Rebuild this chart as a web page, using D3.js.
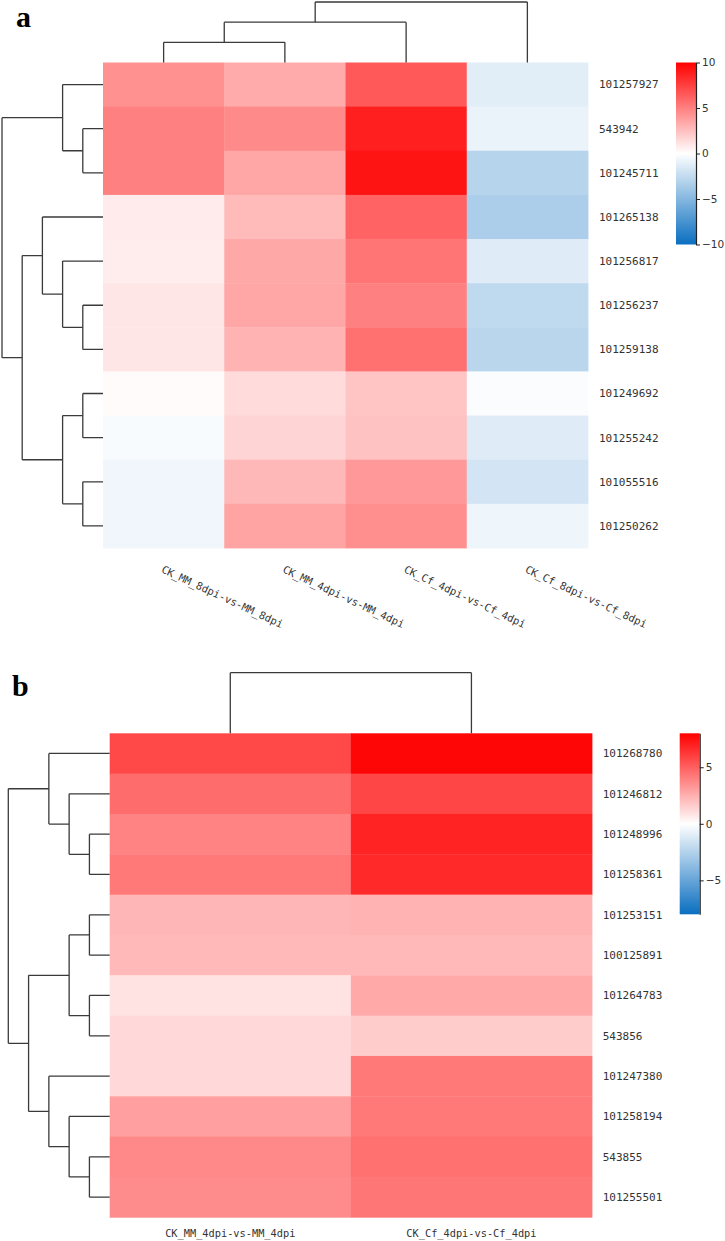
<!DOCTYPE html>
<html><head><meta charset="utf-8">
<script src="https://cdn.jsdelivr.net/npm/d3@7"></script>
<style>
html,body{margin:0;padding:0;background:#fff;}
svg{display:block;}
</style></head>
<body>
<svg id="chart" width="725" height="1241"></svg>
<script>
// ---------- Panel a data ----------
const rowsA = ["101257927","543942","101245711","101265138","101256817","101256237","101259138","101249692","101255242","101055516","101250262"];
const colsA = ["CK_MM_8dpi-vs-MM_8dpi","CK_MM_4dpi-vs-MM_4dpi","CK_Cf_4dpi-vs-Cf_4dpi","CK_Cf_8dpi-vs-Cf_8dpi"];
const valuesA = [
  [4.3, 3.3, 6.5, -1.2],
  [5.0, 4.6, 8.8, -0.8],
  [5.0, 3.5, 9.2, -3.0],
  [0.8, 2.7, 6.1, -3.4],
  [0.7, 3.4, 5.4, -1.3],
  [1.0, 3.5, 5.0, -2.6],
  [1.0, 3.0, 5.6, -2.8],
  [0.15, 1.4, 2.3, -0.2],
  [-0.3, 1.7, 2.4, -1.3],
  [-0.6, 2.8, 4.0, -1.8],
  [-0.6, 3.6, 4.4, -0.7]
];
// dendrograms: node = [height, child, child], leaf = index
const rowTreeA = [5, [2, 0, [1, 1, 2]], [4, [3, 3, [2, 4, [1, 5, 6]]], [2, [1, 7, 8], [1, 9, 10]]]];
const colTreeA = [3, [2, [1, 0, 1], 2], 3];
const limitA = 10;
const ticksA = [-10, -5, 0, 5, 10];

// ---------- Panel b data ----------
const rowsB = ["101268780","101246812","101248996","101258361","101253151","100125891","101264783","543856","101247380","101258194","543855","101255501"];
const colsB = ["CK_MM_4dpi-vs-MM_4dpi","CK_Cf_4dpi-vs-Cf_4dpi"];
const valuesB = [
  [5.7, 7.8],
  [4.6, 5.8],
  [3.9, 6.9],
  [4.2, 6.7],
  [2.3, 2.4],
  [2.2, 2.2],
  [0.9, 2.7],
  [1.2, 1.6],
  [1.2, 4.2],
  [3.0, 4.2],
  [3.7, 4.5],
  [3.6, 4.3]
];
const rowTreeB = [5, [3, 0, [2, 1, [1, 2, 3]]], [4, [2, [1, 4, 5], [1, 6, 7]], [3, 8, [2, 9, [1, 10, 11]]]]];
const colTreeB = [1, 0, 1];
const limitB = 8;
const ticksB = [-5, 0, 5];

// ---------- drawing ----------
const svg = d3.select("#chart");
const BLUE = "#0a6ec0", RED = "#ff0000";
const LINE = "#3a3a3a";
const MONO = "'DejaVu Sans Mono', monospace";

function toHier(t) {
  return d3.hierarchy(t, d => Array.isArray(d) ? d.slice(1) : null);
}

function drawDendro(g, tree, leafPos, hScale, orient) {
  const root = toHier(tree);
  root.eachAfter(n => {
    if (!n.children) { n.p = leafPos(n.data); n.h = 0; }
    else { n.p = (n.children[0].p + n.children[n.children.length - 1].p) / 2; n.h = n.data[0]; }
  });
  root.each(n => {
    if (!n.children) return;
    const hp = hScale(n.h);
    const ps = n.children.map(c => c.p);
    let d = "";
    n.children.forEach(c => {
      const hc = hScale(c.h);
      if (orient === "left") d += `M${hc},${c.p}H${hp}`;
      else d += `M${c.p},${hc}V${hp}`;
    });
    if (orient === "left") d += `M${hp},${d3.min(ps)}V${d3.max(ps)}`;
    else d += `M${d3.min(ps)},${hp}H${d3.max(ps)}`;
    g.append("path").attr("d", d).attr("fill", "none").attr("stroke", LINE).attr("stroke-width", 1.3);
  });
}

function panel(cfg) {
  const g = svg.append("g");
  const x = d3.scaleBand().domain(d3.range(cfg.cols.length)).range([cfg.x0, cfg.x1]);
  const y = d3.scaleBand().domain(d3.range(cfg.rows.length)).range([cfg.y0, cfg.y1]);
  const color = d3.scaleLinear().domain([-cfg.limit, 0, cfg.limit]).range([BLUE, "#ffffff", RED]).clamp(true);

  // cells
  const cells = [];
  cfg.values.forEach((r, i) => r.forEach((v, j) => cells.push({i, j, v})));
  g.append("g").selectAll("rect").data(cells).join("rect")
    .attr("x", d => x(d.j)).attr("y", d => y(d.i))
    .attr("width", x.bandwidth() + 0.4).attr("height", y.bandwidth() + 0.4)
    .attr("fill", d => color(d.v));

  // row labels
  g.append("g").selectAll("text").data(cfg.rows).join("text")
    .attr("x", cfg.x1 + cfg.labelGap)
    .attr("y", (d, i) => y(i) + y.bandwidth() / 2)
    .attr("dy", "0.35em")
    .attr("font-family", MONO).attr("font-size", 11).attr("fill", "#333")
    .text(d => d);

  // column labels
  const cl = g.append("g").selectAll("text").data(cfg.cols).join("text")
    .attr("font-family", MONO).attr("font-size", cfg.colFont).attr("fill", "#333")
    .text(d => d);
  if (cfg.rotate) {
    cl.attr("transform", (d, j) => `translate(${x(j) + x.bandwidth() / 2 - 3},${cfg.y1 + 24}) rotate(${cfg.rotate})`);
  } else {
    cl.attr("text-anchor", "middle")
      .attr("x", (d, j) => x(j) + x.bandwidth() / 2)
      .attr("y", cfg.y1 + 20);
  }

  // row dendrogram
  const rowMax = cfg.rowTree[0];
  const hx = d3.scaleLinear().domain([0, rowMax]).range([cfg.x0, cfg.rowDendroLeft]);
  drawDendro(g, cfg.rowTree, i => y(i) + y.bandwidth() / 2, hx, "left");
  // column dendrogram
  const colMax = cfg.colTree[0];
  const hy = d3.scaleLinear().domain([0, colMax]).range([cfg.y0, cfg.colDendroTop]);
  drawDendro(g, cfg.colTree, j => x(j) + x.bandwidth() / 2, hy, "top");

  // colour bar
  const gid = "grad" + cfg.id;
  const grad = svg.append("defs").append("linearGradient").attr("id", gid)
    .attr("x1", 0).attr("y1", 1).attr("x2", 0).attr("y2", 0);
  d3.range(0, 1.0001, 0.05).forEach(t => {
    grad.append("stop").attr("offset", t).attr("stop-color", color(-cfg.limit + 2 * cfg.limit * t));
  });
  g.append("rect").attr("x", cfg.cbX).attr("y", cfg.y0).attr("width", cfg.cbW).attr("height", cfg.cbH)
    .attr("fill", `url(#${gid})`);
  const cy = d3.scaleLinear().domain([-cfg.limit, cfg.limit]).range([cfg.y0 + cfg.cbH, cfg.y0]);
  const ax = g.append("g").attr("transform", `translate(${cfg.cbX + cfg.cbW},0)`)
    .call(d3.axisRight(cy).tickValues(cfg.ticks).tickSize(4).tickSizeOuter(0).tickPadding(2));
  ax.select(".domain").attr("stroke", "#222").attr("stroke-width", 1.2);
  ax.selectAll(".tick line").attr("stroke", "#222");
  ax.selectAll(".tick text").attr("font-family", "'DejaVu Sans', sans-serif").attr("font-size", 10.5).attr("fill", "#333");

  // panel letter
  g.append("text").attr("x", cfg.letterX).attr("y", cfg.letterY)
    .attr("font-family", "'Liberation Serif', 'Times New Roman', serif")
    .attr("font-weight", "bold").attr("font-size", 30).attr("fill", "#000")
    .text(cfg.letter);
}

panel({
  id: "a", letter: "a", letterX: 16, letterY: 27,
  rows: rowsA, cols: colsA, values: valuesA, limit: limitA, ticks: ticksA,
  rowTree: rowTreeA, colTree: colTreeA,
  x0: 103, x1: 588, y0: 62.5, y1: 548,
  rowDendroLeft: 2, colDendroTop: 2,
  labelGap: 11, colFont: 10.5, rotate: 25,
  cbX: 676, cbW: 20, cbH: 182
});

panel({
  id: "b", letter: "b", letterX: 12, letterY: 696,
  rows: rowsB, cols: colsB, values: valuesB, limit: limitB, ticks: ticksB,
  rowTree: rowTreeB, colTree: colTreeB,
  x0: 109.7, x1: 592, y0: 733.3, y1: 1217.3,
  rowDendroLeft: 8.3, colDendroTop: 672.7,
  labelGap: 10.7, colFont: 10.3, rotate: 0,
  cbX: 679.7, cbW: 20, cbH: 181
});
</script>
</body></html>
